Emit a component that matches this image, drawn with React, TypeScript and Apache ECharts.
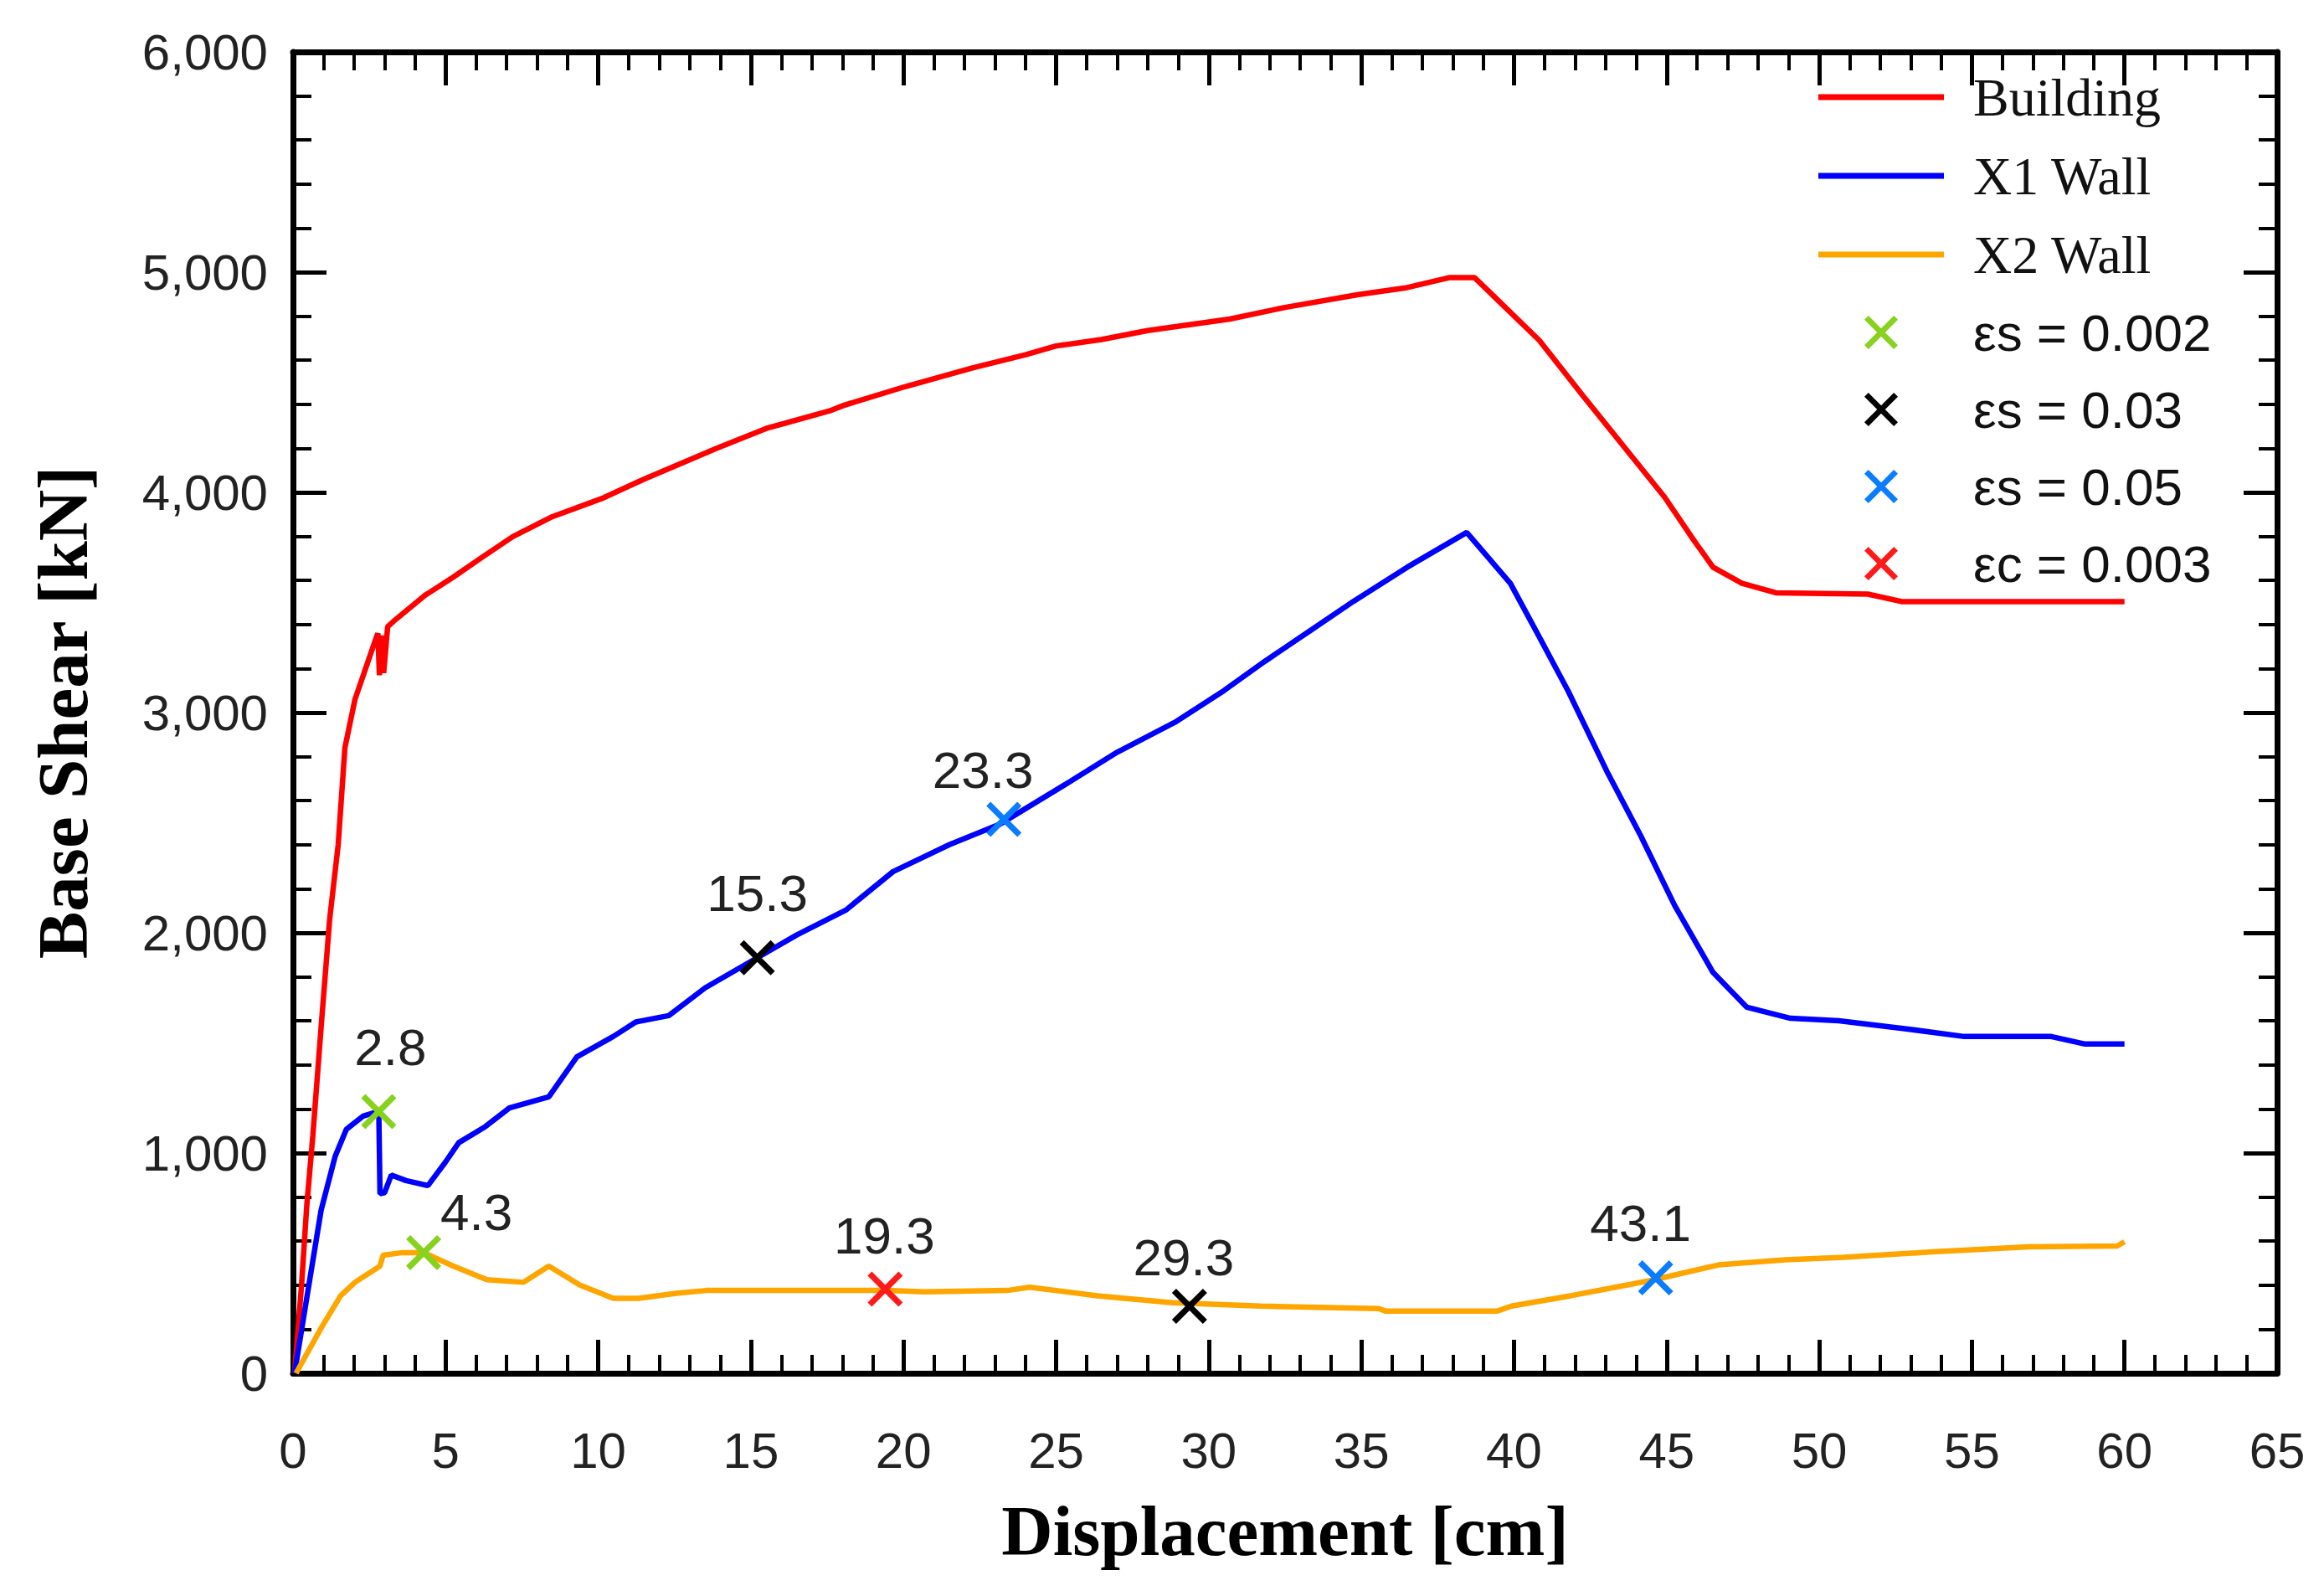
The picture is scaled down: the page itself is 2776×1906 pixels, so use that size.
import React, { useEffect, useRef } from "react";
import * as echarts from "echarts";

// ---- axis ranges ----
const X_MIN = 0;
const X_MAX = 65;
const X_STEP = 5;
const Y_MIN = 0;
const Y_MAX = 6000;
const Y_STEP = 1000;

// ---- series names ----
const SERIES_NAMES = ["Building", "X1 Wall", "X2 Wall"];
const MARKER_NAMES = ["εs = 0.002", "εs = 0.03", "εs = 0.05", "εc = 0.003"];

// ---- curves: [displacement cm, base shear kN] ----
const buildingData = [
  [0.05, 0], [0.28, 400], [0.45, 760], [0.65, 1080], [0.92, 1570], [1.2, 2060],
  [1.48, 2400], [1.7, 2840], [2.03, 3060], [2.39, 3205], [2.7, 3330], [2.78, 3360],
  [2.83, 3170], [2.9, 3350], [2.97, 3180], [3.1, 3390], [3.3, 3415], [4.33, 3533],
  [5.25, 3615], [6.17, 3703], [7.2, 3799], [8.5, 3890], [10.17, 3975], [11.5, 4060],
  [13.87, 4200], [15.5, 4290], [17.58, 4370], [18.04, 4395], [20.05, 4480],
  [22.26, 4565], [24, 4625], [25, 4665], [26.48, 4694], [28, 4735], [30.69, 4787],
  [32.5, 4840], [34.91, 4898], [36.5, 4930], [37.87, 4975], [38.71, 4975],
  [40.83, 4690], [42.25, 4440], [43.67, 4196], [44.94, 3977], [45.89, 3783],
  [46.52, 3660], [47.47, 3587], [48.58, 3544], [51.59, 3538], [52.7, 3504], [60, 3504],
];

const x1WallData = [
  [0.05, 0], [0.46, 350], [0.92, 740], [1.38, 985], [1.75, 1108], [2.3, 1168],
  [2.81, 1190], [2.85, 815], [3.0, 820], [3.22, 900], [3.7, 875], [4.42, 852],
  [5.0, 960], [5.43, 1047], [6.3, 1120], [7.09, 1205], [8.38, 1255], [9.3, 1437],
  [10.5, 1530], [11.23, 1595], [12.31, 1624], [13.5, 1750], [15.21, 1887],
  [16.5, 1990], [18.11, 2103], [19.66, 2278], [21.5, 2400], [23.14, 2492],
  [25.46, 2687], [27, 2820], [28.94, 2960], [30.5, 3100], [31.84, 3233],
  [33.3, 3370], [34.75, 3506], [36.5, 3660], [38.45, 3818], [39.88, 3587],
  [40.83, 3343], [41.77, 3099], [43.04, 2734], [44.15, 2441], [45.26, 2125],
  [46.52, 1820], [47.63, 1662], [49.06, 1612], [50.64, 1601], [52.85, 1564],
  [54.75, 1529], [57.6, 1529], [58.71, 1495], [60, 1495],
];

const x2WallData = [
  [0.1, 0], [0.5, 100], [0.92, 205], [1.56, 352], [2.03, 413], [2.85, 487],
  [2.95, 536], [3.59, 548], [4.28, 548], [5.25, 487], [6.35, 425], [7.55, 413],
  [8.38, 487], [9.39, 401], [10.49, 340], [11.32, 340], [12.56, 363], [13.54, 376],
  [19.45, 376], [20.7, 370], [23.4, 376], [24.13, 391], [26.35, 352], [28.8, 320],
  [31.7, 305], [35.57, 294], [35.8, 282], [39.44, 282], [39.92, 305], [41.86, 352],
  [44.51, 422], [46.7, 492], [48.88, 515], [50.8, 527], [53.7, 551], [56.85, 574],
  [59.76, 578], [60, 597],
];

// ---- strain markers: [displacement, base shear] and their annotation texts ----
const es002Points = [[2.81, 1188], [4.28, 548]];
const es002Labels = ["2.8", "4.3"];
const es003Points = [[15.21, 1887], [29.37, 304]];
const es003Labels = ["15.3", "29.3"];
const es005Points = [[23.29, 2515], [44.64, 433]];
const es005Labels = ["23.3", "43.1"];
const ec003Points = [[19.4, 382]];
const ec003Labels = ["19.3"];

// ---- styling (kept apart from the data) ----
const LINE_COLORS = ["#ff0000", "#0000ff", "#ffa500"];
const MARKER_COLORS = ["#86d21c", "#000000", "#0a7cff", "#ff1a1a"];
const LABEL_OFFSETS = [
  [[14, -77], [63, -48]],
  [[0, -77], [-7, -59]],
  [[-25, -59], [-18, -66]],
  [[-1, -64]],
];

const X_SYMBOL = "path://M0,1.2 L1.2,0 L10,8.8 L8.8,10 Z M8.8,0 L10,1.2 L1.2,10 L0,8.8 Z";
const LINE_ICON = "path://M0,0 L150,0 L150,7 L0,7 Z";
const SANS = "Liberation Sans";
const SERIF = "Liberation Serif";

function fmtThousands(v: number): string {
  const s = String(Math.round(v));
  return s.replace(/\B(?=(\d{3})+(?!\d))/g, ",");
}

export default function App() {
  const ref = useRef<HTMLDivElement>(null);

  useEffect(() => {
    document.body.style.margin = "0";
    if (!ref.current) return;
    const chart = echarts.init(ref.current, undefined, { renderer: "svg" });

    const axisLine = { show: true, onZero: false, lineStyle: { color: "#000", width: 7 } };
    const axisTick = { show: true, inside: true, length: 40, lineStyle: { color: "#000", width: 5 } };
    const minorTick = { show: true, splitNumber: 5, length: 22, lineStyle: { color: "#000", width: 4 } };
    const nameStyle = {
      fontFamily: SERIF,
      fontWeight: "bold",
      fontSize: 85,
      color: "#000",
      lineHeight: 85,
    };

    const markerSets = [
      { pts: es002Points, labels: es002Labels },
      { pts: es003Points, labels: es003Labels },
      { pts: es005Points, labels: es005Labels },
      { pts: ec003Points, labels: ec003Labels },
    ];

    const lineSeries = [buildingData, x1WallData, x2WallData].map((d, i) => ({
      name: SERIES_NAMES[i],
      type: "line",
      data: d,
      symbol: "none",
      showSymbol: false,
      lineStyle: { color: LINE_COLORS[i], width: 6.5 },
      itemStyle: { color: LINE_COLORS[i] },
      z: 2,
    }));

    const scatterSeries = markerSets.map((m, i) => ({
      name: MARKER_NAMES[i],
      type: "scatter",
      symbol: X_SYMBOL,
      symbolSize: 42,
      itemStyle: { color: MARKER_COLORS[i], opacity: 1 },
      z: 4,
      data: m.pts.map((p, j) => ({
        value: p,
        name: m.labels[j],
        label: { offset: LABEL_OFFSETS[i][j] },
      })),
      label: {
        show: true,
        position: "inside",
        formatter: "{b}",
        fontFamily: SANS,
        fontSize: 62,
        color: "#222",
        textBorderWidth: 0,
      },
    }));

    const legendData = [
      ...SERIES_NAMES.map((n) => ({
        name: n,
        icon: LINE_ICON,
        textStyle: { fontFamily: SERIF, fontSize: 64, color: "#111" },
      })),
      ...MARKER_NAMES.map((n) => ({
        name: n,
        textStyle: { fontFamily: SANS, fontSize: 62, color: "#111" },
      })),
    ];

    const option = {
      animation: false,
      backgroundColor: "#ffffff",
      textStyle: { fontFamily: SANS },
      grid: { left: 350, top: 62, right: 56, bottom: 266, containLabel: false },
      legend: {
        orient: "vertical",
        left: 2172,
        top: 84,
        padding: 0,
        itemWidth: 150,
        itemHeight: 40,
        itemGap: 30,
        selectedMode: false,
        textStyle: {
          fontFamily: SANS,
          fontSize: 62,
          color: "#111",
          padding: [0, 0, 0, 30],
        },
        data: legendData,
      },
      xAxis: [
        {
          type: "value",
          position: "bottom",
          min: X_MIN,
          max: X_MAX,
          interval: X_STEP,
          name: "Displacement [cm]",
          nameLocation: "middle",
          nameGap: 145,
          nameTextStyle: nameStyle,
          axisLine,
          axisTick,
          minorTick,
          axisLabel: { show: true, margin: 62, fontSize: 60, color: "#222", fontFamily: SANS },
          splitLine: { show: false },
          minorSplitLine: { show: false },
        },
        {
          type: "value",
          position: "top",
          min: X_MIN,
          max: X_MAX,
          interval: X_STEP,
          axisLine,
          axisTick,
          minorTick,
          axisLabel: { show: false },
          splitLine: { show: false },
          minorSplitLine: { show: false },
        },
      ],
      yAxis: [
        {
          type: "value",
          position: "left",
          min: Y_MIN,
          max: Y_MAX,
          interval: Y_STEP,
          name: "Base Shear [kN]",
          nameLocation: "middle",
          nameGap: 233,
          nameTextStyle: nameStyle,
          axisLine,
          axisTick,
          minorTick,
          axisLabel: {
            show: true,
            margin: 30,
            fontSize: 60,
            color: "#222",
            fontFamily: SANS,
            formatter: (v: number) => fmtThousands(v),
          },
          splitLine: { show: false },
          minorSplitLine: { show: false },
        },
        {
          type: "value",
          position: "right",
          min: Y_MIN,
          max: Y_MAX,
          interval: Y_STEP,
          axisLine,
          axisTick,
          minorTick,
          axisLabel: { show: false },
          splitLine: { show: false },
          minorSplitLine: { show: false },
        },
      ],
      series: [...lineSeries, ...scatterSeries],
    };

    chart.setOption(option as any);
    return () => chart.dispose();
  }, []);

  return <div ref={ref} style={{ width: "2776px", height: "1906px" }} />;
}
